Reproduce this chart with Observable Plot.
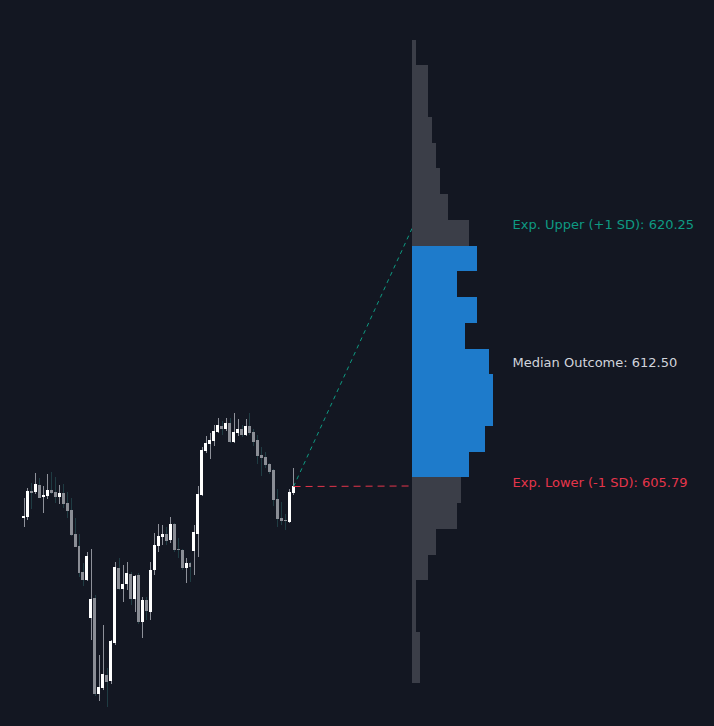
<!DOCTYPE html>
<html>
<head>
<meta charset="utf-8">
<script src="https://cdn.jsdelivr.net/npm/d3@7"></script>
<script src="https://cdn.jsdelivr.net/npm/@observablehq/plot@0.6"></script>
<style>
  html, body { margin: 0; padding: 0; background: #131722; }
  #wrap { position: relative; width: 714px; height: 726px; overflow: hidden; }
  #wrap svg { position: absolute; left: 0; top: 0; background: transparent; }
</style>
</head>
<body>
<div id="wrap"></div>
<script>
// ---- Candles (price history) ----
const opens = [603.97,604.05,605.48,605.43,605.82,605.16,605.22,605.54,605.41,605.16,
605.37,604.81,604.42,603.08,602.41,600.95,600.50,598.40,599.50,594.13,
594.46,595.19,594.86,596.98,601.18,600.00,600.28,600.84,599.44,600.78,
598.16,599.39,598.72,601.06,602.41,602.91,603.08,602.74,603.64,602.24,
602.18,601.18,601.46,602.13,603.08,605.26,607.72,608.11,608.28,608.78,
609.12,608.95,609.29,608.22,608.73,608.95,608.61,609.12,608.78,608.34,
607.50,607.38,606.99,606.66,605.04,603.97,603.86,603.75,605.37];
const closes = [604.08,605.48,605.37,605.87,605.11,605.28,605.54,605.37,605.16,605.37,
604.77,604.38,603.02,602.37,600.91,600.52,601.85,599.44,594.13,594.52,
595.25,594.80,597.09,601.23,600.00,600.28,600.90,599.44,600.73,598.16,
599.39,598.77,601.06,602.46,602.97,603.08,602.69,603.64,602.18,602.18,
601.18,601.46,601.23,603.19,605.31,607.78,608.17,608.34,608.84,609.17,
608.95,609.29,608.22,608.78,608.95,608.61,609.12,608.73,608.22,607.44,
607.33,606.94,606.55,604.98,603.92,603.80,603.80,605.43,605.76];
const highs = [605.07,605.63,605.91,606.51,606.19,605.76,606.43,606.55,606.25,605.82,
605.87,605.41,605.07,603.96,603.08,601.47,602.07,602.24,599.67,596.31,
597.99,595.58,597.15,601.51,601.74,601.34,601.51,600.95,600.78,600.90,
599.55,599.55,601.51,603.13,603.64,603.58,603.47,604.03,603.69,602.85,
602.24,601.74,601.51,603.58,605.76,607.94,608.56,608.73,609.17,609.57,
609.40,609.57,609.57,609.85,609.51,609.17,609.51,609.85,608.95,608.61,
607.94,607.66,607.05,606.71,605.59,604.87,604.20,605.59,606.77];
const lows = [603.49,603.86,604.46,605.31,605.07,604.27,605.04,605.30,604.83,604.77,
604.55,603.99,602.97,602.33,600.69,600.17,600.45,597.15,594.02,593.74,
594.35,593.42,594.69,596.87,599.95,599.27,599.95,599.11,598.72,598.04,
597.26,598.27,598.27,600.78,602.07,602.46,602.46,602.57,602.07,601.74,
601.06,600.34,600.39,600.78,601.79,605.20,607.61,607.27,608.00,608.73,
608.61,608.84,608.17,608.17,608.56,608.50,608.56,608.61,608.00,606.99,
606.32,606.77,606.43,604.64,603.47,603.58,603.30,603.69,605.26];

// ---- Projection ----
const horizonBars = 30;
const levelNames = ["Exp. Upper (+1 SD)", "Median Outcome", "Exp. Lower (-1 SD)"];
const levelValues = [620.25, 612.50, 605.79];
const levelColors = ["#0e9a82", "#d1d4dc", "#e5354b"];

// ---- Outcome distribution (histogram, bottom bin first) ----
const binEdges = [594.72,596.16,597.60,599.04,600.48,601.92,603.36,604.80,606.24,607.68,
609.12,610.56,612.00,613.44,614.88,616.32,617.76,619.20,620.64,622.08,
623.52,624.96,626.40,627.84,629.28,630.72];
const binCounts = [2,2,1,1,4,6,11,12,14,18,20,20,19,13,16,11,16,14,9,7,6,5,4,4,1];

// ---- build tables ----
const candles = opens.map((o, i) => ({i, open: o, close: closes[i], high: highs[i], low: lows[i]}));
const last = candles[candles.length - 1];
const horizon = last.i + horizonBars;
const lower = levelValues[2], upper = levelValues[0];
const bins = binCounts.map((c, k) => ({lo: binEdges[k], hi: binEdges[k + 1], count: c,
  inside: binEdges[k] >= lower && binEdges[k + 1] <= upper}));
const levels = levelNames.map((n, k) => ({name: n, value: levelValues[k], color: levelColors[k]}));

const W = 714, H = 726;
const yScale = {domain: [592.34, 632.94], range: [H, 0]};

const chartA = Plot.plot({
  width: W, height: H, margin: 0,
  style: {background: "transparent"},
  x: {domain: [0, horizon], range: [23.5, 412], axis: null},
  y: {...yScale, axis: null},
  marks: [
    Plot.ruleX(candles, {x: "i", y1: "low", y2: "high",
      stroke: d => d.close >= d.open ? "#8e919a" : "#1f3c43", strokeWidth: 1, shapeRendering: "crispEdges"}),
    Plot.rect(candles, {x1: d => d.i - 0.37, x2: d => d.i + 0.37,
      y1: "open", y2: d => Math.abs(d.close - d.open) < 0.06 ? d.open + (d.close >= d.open ? 0.06 : -0.06) : d.close,
      fill: d => d.close >= d.open ? "#ffffff" : "#8a8d95", shapeRendering: "crispEdges"}),
    Plot.link([levels[0]], {x1: () => last.i, y1: () => last.close, x2: () => horizon, y2: "value",
      stroke: "color", strokeWidth: 1, strokeDasharray: "4,4"}),
    Plot.link([levels[2]], {x1: () => last.i, y1: () => last.close, x2: () => horizon, y2: "value",
      stroke: "color", strokeWidth: 1, strokeDasharray: "7,5"})
  ]
});

const maxCount = d3.max(binCounts);
const chartB = Plot.plot({
  width: W, height: H, margin: 0,
  style: {background: "transparent"},
  x: {domain: [0, maxCount], range: [412, 493], axis: null},
  y: {...yScale, axis: null},
  marks: [
    Plot.rect(bins, {x1: 0, x2: "count", y1: "lo", y2: "hi",
      fill: d => d.inside ? "#1e7bcb" : "#3b3e48", shapeRendering: "crispEdges"}),
    Plot.text(levels, {x: () => maxCount, y: "value", dx: 19, dy: -3,
      text: d => `${d.name}: ${d.value.toFixed(2)}`, fill: "color", textAnchor: "start",
      fontSize: 13, fontFamily: "DejaVu Sans"})
  ]
});

const wrap = document.getElementById("wrap");
wrap.append(chartA, chartB);
</script>
</body>
</html>
